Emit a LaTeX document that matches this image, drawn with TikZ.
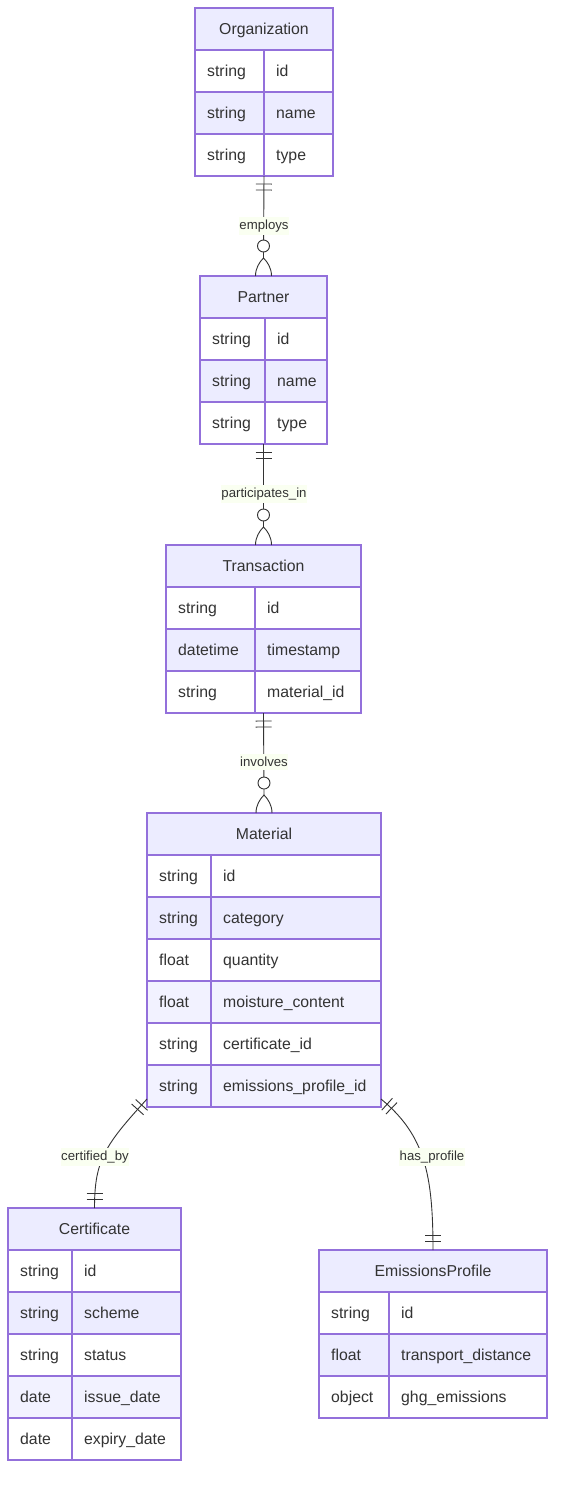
\documentclass[tikz,border=0pt]{standalone}
\usepackage{fontspec}
\setmainfont{Liberation Sans}
\usetikzlibrary{calc,decorations.markings}
\definecolor{entborder}{HTML}{9370DB}
\definecolor{hdr}{HTML}{ECECFF}
\definecolor{rowA}{HTML}{ECECFF}
\definecolor{rowB}{HTML}{F2F2FF}
\definecolor{txt}{HTML}{333333}
\definecolor{lbl}{RGB}{250,255,241}

% #1 name, #2 left, #3 top, #4 width, #5 type column width, #6 height, #7 title, #8 rows
\newcommand{\erentity}[8]{%
  \node[ebox, minimum width=#4pt, minimum height=#6pt, anchor=north west] (#1) at (#2,#3) {};
  \fill[hdr] (#1.north west) rectangle ($(#1.north east)+(0,42)$);
  \node[ttl] at ($(#1.north)+(0,26.5)$) {#7};
  \foreach [count=\ri] \ty/\nm in {#8} {%
    \pgfmathsetmacro\yt{#3+42*\ri}%
    \ifodd\ri\relax \def\rowc{white}\else\ifnum\ri=2 \def\rowc{rowA}\else\def\rowc{rowB}\fi\fi
    \fill[fill=\rowc] (#2,\yt) rectangle ++(#4,42);
    \node[cell] at (#2+12,\yt+26.5) {\ty};
    \node[cell] at (#2+#5+12,\yt+26.5) {\nm};
    \draw[eline] (#2,\yt) -- ++(#4,0);
  }
  \draw[eline] ($(#1.north west)+(#5,42)$) -- ($(#1.south west)+(#5,0)$);
  \draw[eline] (#1.north west) rectangle (#1.south east);
}

\begin{document}
\begin{tikzpicture}[x=1pt,y=-1pt,
  ebox/.style={inner sep=0pt, outer sep=0pt},
  eline/.style={draw=entborder, line width=1.3pt},
  ttl/.style={anchor=base, text=txt, font=\fontsize{15.8}{18}\selectfont, inner sep=0pt},
  cell/.style={anchor=base west, text=txt, font=\fontsize{15.8}{18}\selectfont, inner sep=0pt},
  conn/.style={draw=txt, line width=0.9pt},
  lblnode/.style={fill=lbl, text=txt, font=\fontsize{13.2}{15}\selectfont, inner xsep=0.5pt, inner ysep=2.8pt},
  onestart/.style={postaction={decorate,decoration={markings,
    mark=at position 8pt with {\draw[conn] (0pt,-8pt) -- (0pt,8pt);},
    mark=at position 14pt with {\draw[conn] (0pt,-8pt) -- (0pt,8pt);}}}}
]
\fill[white] (0,0) rectangle (563,1489);
\useasboundingbox (0,0) rectangle (563,1489);

\erentity{org}{195}{8}{138}{69}{168}{Organization}{string/id, string/name, string/type}
\erentity{partner}{200}{276}{127}{65}{168}{Partner}{string/id, string/name, string/type}
\erentity{trans}{166}{545}{195}{89}{168}{Transaction}{string/id, datetime/timestamp, string/material\_id}
\erentity{mat}{147}{813}{234}{64}{294}{Material}{string/id, string/category, float/quantity, float/moisture\_content, string/certificate\_id, string/emissions\_profile\_id}
\erentity{cert}{8}{1208}{173}{64}{252}{Certificate}{string/id, string/scheme, string/status, date/issue\_date, date/expiry\_date}
\erentity{emis}{319}{1250}{228}{70}{168}{EmissionsProfile}{string/id, float/transport\_distance, object/ghg\_emissions}

% vertical one-to-many connectors
\foreach \a/\b in {org/partner, partner/trans, trans/mat} {
  \draw[conn,onestart] (\a.south) -- ($(\b.north)+(0,-18)$);
  \draw[conn,fill=white] ($(\b.north)+(0,-30)$) circle (6pt);
  \draw[conn] ($(\b.north)+(-8,0)$) .. controls +(0,-8) and +(-4,4) .. ($(\b.north)+(0,-18)$)
              .. controls +(4,4) and +(0,-8) .. ($(\b.north)+(8,0)$);
}

% curved one-to-one connectors
\draw[conn,onestart] ($(mat.south west)+(0,-8)$) .. controls (105,1145) and ($(cert.north)+(0,-48)$) .. (cert.north);
\draw[conn] ($(cert.north)+(-8,-9)$) -- +(16,0);
\draw[conn] ($(cert.north)+(-8,-15)$) -- +(16,0);

\draw[conn,onestart] ($(mat.south east)+(0,-8)$) .. controls (425,1135) and ($(emis.north)+(0,-75)$) .. (emis.north);
\draw[conn] ($(emis.north)+(-8,-9)$) -- +(16,0);
\draw[conn] ($(emis.north)+(-8,-15)$) -- +(16,0);

% labels
\node[lblnode] (l1) at (264,226) {employs};
\node[lblnode] (l2) at (264,494) {participates\_in};
\node[lblnode] (l3) at (264,762) {involves};
\node[lblnode] (l4) at (95,1157) {certified\_by};
\node[lblnode] (l5) at (432,1157) {has\_profile};
\end{tikzpicture}
\end{document}
